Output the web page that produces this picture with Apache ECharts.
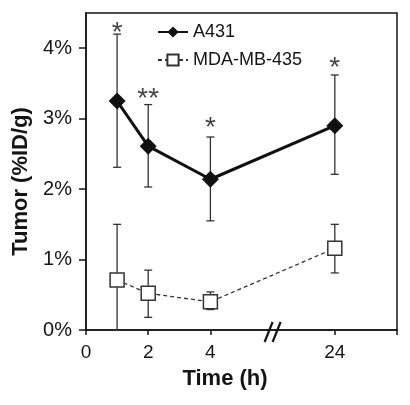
<!DOCTYPE html>
<html>
<head>
<meta charset="utf-8">
<script src="https://cdn.jsdelivr.net/npm/echarts@6/dist/echarts.min.js"></script>
<style>html,body{margin:0;padding:0;background:#fff}#c{width:410px;height:405px}</style>
</head>
<body>
<div id="c"></div>
<script>
// Data (values in %ID/g)
const times = [1, 2, 4, 24];
const a431 = [3.25, 2.61, 2.14, 2.90];
const a431Lo = [2.31, 2.03, 1.55, 2.21];
const a431Hi = [4.20, 3.20, 2.74, 3.62];
const mda = [0.71, 0.52, 0.40, 1.16];
const mdaLo = [0.00, 0.18, 0.29, 0.81];
const mdaHi = [1.50, 0.85, 0.54, 1.50];
const sigLabels = ['*', '**', '*', '*'];
const sigY = [4.31, 3.37, 2.96, 3.82];
const xTickHours = [0, 2, 4, 24];
const yTickValues = [0, 1, 2, 3, 4];

// Broken time axis: hours after the break are shifted by 16
const BREAK_SHIFT = 16;
const BREAK_AT = 6;
const pos = t => (t > BREAK_AT ? t - BREAK_SHIFT : t);
const hour = p => (p > BREAK_AT ? p + BREAK_SHIFT : p);

const FONT = "'Liberation Sans', Arial, sans-serif";
const INK = '#141414';

function errRender(params, api) {
  const x = api.value(0), lo = api.value(1), hi = api.value(2);
  const pLo = api.coord([x, lo]), pHi = api.coord([x, hi]);
  const w = 4;
  const st = { stroke: '#333', lineWidth: 1.3 };
  return {
    type: 'group',
    children: [
      { type: 'line', shape: { x1: pLo[0], y1: pLo[1], x2: pHi[0], y2: pHi[1] }, style: st },
      { type: 'line', shape: { x1: pHi[0] - w, y1: pHi[1], x2: pHi[0] + w, y2: pHi[1] }, style: st },
      { type: 'line', shape: { x1: pLo[0] - w, y1: pLo[1], x2: pLo[0] + w, y2: pLo[1] }, style: st }
    ]
  };
}

function breakRender(params, api) {
  const p = api.coord([api.value(0), api.value(1)]);
  const st = { stroke: INK, lineWidth: 2.2 };
  const h = 10, dx = 4, sep = 4;
  return {
    type: 'group',
    children: [
      { type: 'line', shape: { x1: p[0] - sep - dx, y1: p[1] + h + 2, x2: p[0] - sep + dx, y2: p[1] - h + 2 }, style: st },
      { type: 'line', shape: { x1: p[0] + sep - dx, y1: p[1] + h + 2, x2: p[0] + sep + dx, y2: p[1] - h + 2 }, style: st }
    ]
  };
}

const chart = echarts.init(document.getElementById('c'), null, { renderer: 'canvas' });
chart.setOption({
  animation: false,
  backgroundColor: '#fff',
  textStyle: { fontFamily: FONT },
  grid: { left: 86, right: 13, top: 13, bottom: 75, show: true, borderColor: INK, borderWidth: 1.5, containLabel: false, outerBoundsMode: 'none' },
  legend: {
    data: ['A431', 'MDA-MB-435'],
    orient: 'vertical',
    left: 157, top: 23, padding: 0,
    itemWidth: 30, itemHeight: 14, itemGap: 10,
    textStyle: { fontSize: 18, color: INK, fontFamily: FONT }
  },
  xAxis: {
    type: 'value', min: 0, max: 10,
    name: 'Time (h)', nameLocation: 'middle', nameGap: 38,
    nameTextStyle: { fontSize: 22, fontWeight: 'bold', color: INK, fontFamily: FONT, padding: [0, 33, 0, 0] },
    axisLine: { lineStyle: { color: INK, width: 1.5 } },
    axisTick: { show: true, length: 5, lineStyle: { color: INK, width: 1.5 }, customValues: xTickHours.map(pos).concat([10]) },
    axisLabel: { fontSize: 19, color: INK, margin: 13, fontFamily: FONT, customValues: xTickHours.map(pos), formatter: v => String(hour(v)) },
    splitLine: { show: false }
  },
  yAxis: {
    type: 'value', min: 0, max: 4.5,
    name: 'Tumor (%ID/g)', nameLocation: 'middle', nameGap: 53,
    nameTextStyle: { fontSize: 22, fontWeight: 'bold', color: INK, fontFamily: FONT, padding: [0, 20, 0, 0] },
    axisLine: { show: true, lineStyle: { color: INK, width: 1.5 } },
    axisTick: { show: true, length: 7, lineStyle: { color: INK, width: 1.5 }, customValues: yTickValues },
    axisLabel: { fontSize: 20, color: INK, margin: 14, fontFamily: FONT, customValues: yTickValues, formatter: v => v + '%' },
    splitLine: { show: false }
  },
  series: [
    {
      type: 'custom', name: 'errA', renderItem: errRender, z: 1, silent: true,
      data: times.map((t, i) => [pos(t), a431Lo[i], a431Hi[i]]),
      encode: { x: 0, y: [1, 2] }
    },
    {
      type: 'custom', name: 'errM', renderItem: errRender, z: 1, silent: true,
      data: times.map((t, i) => [pos(t), mdaLo[i], mdaHi[i]]),
      encode: { x: 0, y: [1, 2] }
    },
    {
      type: 'line', name: 'A431', z: 3,
      data: times.map((t, i) => [pos(t), a431[i]]),
      symbol: 'diamond', symbolSize: 17,
      itemStyle: { color: '#111' },
      lineStyle: { color: '#111', width: 3 }
    },
    {
      type: 'line', name: 'MDA-MB-435', z: 3,
      data: times.map((t, i) => [pos(t), mda[i]]),
      symbol: 'rect', symbolSize: 14,
      itemStyle: { color: '#fff', borderColor: '#333', borderWidth: 1.5 },
      lineStyle: { color: '#333', width: 1.3, type: [4, 3] }
    },
    {
      type: 'scatter', name: 'sig', silent: true,
      data: times.map((t, i) => [pos(t), sigY[i]]),
      symbolSize: 1, itemStyle: { color: 'rgba(0,0,0,0)' },
      label: { show: true, position: 'inside', offset: [0, 7], fontSize: 28, color: INK, fontFamily: FONT, formatter: p => sigLabels[p.dataIndex] }
    },
    {
      type: 'custom', name: 'break', renderItem: breakRender, silent: true, clip: false, z: 5,
      data: [[BREAK_AT, 0]]
    }
  ]
});
</script>
</body>
</html>
